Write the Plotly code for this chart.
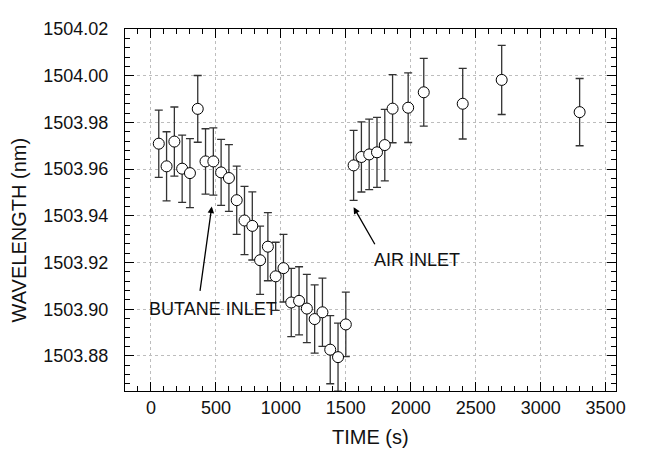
import plotly.graph_objects as go

# time (s) and peak wavelength (nm) with error bars
time_s = [60, 120, 180, 240, 300, 360, 420, 480, 540, 600, 660, 720, 780,
          840, 900, 960, 1020, 1080, 1140, 1200, 1260, 1320, 1380, 1440, 1500,
          1560, 1620, 1680, 1740, 1800, 1860, 1980, 2100, 2400, 2700, 3300]
wavelength_nm = [1503.9709, 1503.9612, 1503.9718, 1503.9602, 1503.9583, 1503.9858,
                 1503.9633, 1503.9633, 1503.9586, 1503.9562, 1503.9467, 1503.9380,
                 1503.9357, 1503.9210, 1503.9268, 1503.9141, 1503.9176, 1503.9029,
                 1503.9036, 1503.9003, 1503.8958, 1503.8987, 1503.8827, 1503.8795,
                 1503.8935,
                 1503.9616, 1503.9652, 1503.9663, 1503.9672, 1503.9703, 1503.9859,
                 1503.9863, 1503.9929, 1503.9880, 1503.9982, 1503.9844]
error_nm = [0.0144, 0.0148, 0.0148, 0.0144, 0.0148, 0.0143, 0.0140, 0.0144,
            0.0141, 0.0143, 0.0146, 0.0146, 0.0146, 0.0146, 0.0146, 0.0146,
            0.0145, 0.0146, 0.0146, 0.0146, 0.0146, 0.0146, 0.0146, 0.0146,
            0.0138,
            0.0150, 0.0150, 0.0151, 0.0150, 0.0153, 0.0146, 0.0149, 0.0145,
            0.0151, 0.0148, 0.0144]

FONT = "Liberation Sans, Arial, sans-serif"

fig = go.Figure()
fig.add_trace(go.Scatter(
    x=time_s, y=wavelength_nm, mode="markers",
    marker=dict(symbol="circle", size=11, color="white",
                line=dict(color="black", width=1)),
    error_y=dict(type="data", array=error_nm, visible=True,
                 color="#333333", thickness=1.3, width=4),
    showlegend=False,
))

axis_common = dict(
    showline=True, linecolor="black", linewidth=1.3, mirror="ticks",
    ticks="inside", ticklen=9, tickwidth=1.2, tickcolor="black",
    showgrid=True, gridcolor="#bdbdbd", griddash="dot", gridwidth=1,
    zeroline=False, tickfont=dict(family=FONT, size=18, color="#111111"),
)

fig.update_xaxes(
    range=[-200, 3580], tick0=0, dtick=500, ticklabelstandoff=0,
    minor=dict(dtick=100, ticks="inside", ticklen=5, tickcolor="black"),
    **axis_common,
)
fig.update_yaxes(
    range=[1503.865, 1504.02], tick0=1503.88, dtick=0.02, tickformat=".2f",
    ticklabelstandoff=12,
    minor=dict(dtick=0.004, ticks="inside", ticklen=5, tickcolor="black"),
    **axis_common,
)

# inlet labels with arrows
fig.add_annotation(x=477, y=1503.9003, text="BUTANE INLET", showarrow=False,
                   font=dict(family=FONT, size=18, color="#111111"))
fig.add_annotation(x=2050, y=1503.9209, text="AIR INLET", showarrow=False,
                   font=dict(family=FONT, size=18, color="#111111"))
fig.add_annotation(x=468, y=1503.944, ax=376, ay=1503.9072, axref="x", ayref="y",
                   text="", showarrow=True, arrowhead=2, arrowsize=1,
                   arrowwidth=1.3, arrowcolor="black", standoff=0)
fig.add_annotation(x=1560, y=1503.9437, ax=1730, ay=1503.9272, axref="x", ayref="y",
                   text="", showarrow=True, arrowhead=2, arrowsize=1,
                   arrowwidth=1.3, arrowcolor="black", standoff=0)

# axis titles
fig.add_annotation(x=0.5, y=-0.128, xref="paper", yref="paper", text="TIME (s)",
                   showarrow=False, yanchor="middle",
                   font=dict(family=FONT, size=20, color="#111111"))
fig.add_annotation(x=-0.214, y=0.4435, xref="paper", yref="paper",
                   text="WAVELENGTH (nm)", textangle=-90, showarrow=False,
                   xanchor="center", yanchor="middle",
                   font=dict(family=FONT, size=20, color="#111111"))

# page body keeps its default 8px margin, so the figure is 8px smaller
fig.update_layout(
    width=637, height=449,
    margin=dict(l=117, r=29, t=11, b=66),
    plot_bgcolor="white", paper_bgcolor="white",
)

fig.write_html("out.html")
